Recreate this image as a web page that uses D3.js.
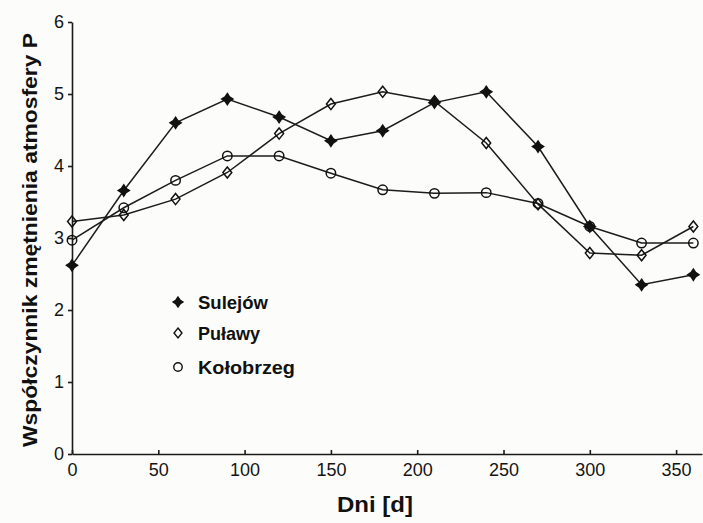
<!DOCTYPE html>
<html>
<head>
<meta charset="utf-8">
<script src="https://cdn.jsdelivr.net/npm/d3@7"></script>
<style>
  body { margin: 0; background: #fcfdfb; }
  svg { display: block; font-family: "Liberation Sans", Arial, sans-serif; }
  .axis path, .axis line { stroke: #1a1a1a; stroke-width: 1.6; }
  .axis text { fill: #141414; font-size: 18px; }
</style>
</head>
<body>
<div id="chart"></div>
<script>
// data
const days = [0, 30, 60, 90, 120, 150, 180, 210, 240, 270, 300, 330, 360]
const sulejow   = [2.62, 3.66, 4.60, 4.93, 4.68, 4.35, 4.49, 4.88, 5.03, 4.27, 3.16, 2.35, 2.49]
const pulawy    = [3.23, 3.32, 3.54, 3.91, 4.45, 4.86, 5.03, 4.90, 4.32, 3.47, 2.79, 2.76, 3.16]
const kolobrzeg = [2.97, 3.42, 3.80, 4.14, 4.14, 3.90, 3.67, 3.62, 3.63, 3.48, 3.16, 2.93, 2.93]
const seriesNames = ["Sulejów", "Puławy", "Kołobrzeg"]
const xTicks = [0, 50, 100, 150, 200, 250, 300, 350]
const yTicks = [0, 1, 2, 3, 4, 5, 6]

const width = 703
const height = 523
const margin = {top: 22, right: 1, bottom: 69, left: 72}

const svg = d3.select("#chart").append("svg")
    .attr("width", width)
    .attr("height", height)

const xScale = d3.scaleLinear()
    .domain([0, 365])
    .range([margin.left, width - margin.right])

const yScale = d3.scaleLinear()
    .domain([0, 6])
    .range([height - margin.bottom, margin.top])

// 4-pointed star marker
const star4 = {
    draw(context, size) {
        const r = Math.sqrt(size) * 0.75
        const i = r * 0.4
        context.moveTo(0, -r)
        context.lineTo(i, -i)
        context.lineTo(r, 0)
        context.lineTo(i, i)
        context.lineTo(0, r)
        context.lineTo(-i, i)
        context.lineTo(-r, 0)
        context.lineTo(-i, -i)
        context.closePath()
    }
}
const diamond = {
    draw(context, size) {
        const h = Math.sqrt(size) * 0.62
        const w = h * 0.8
        context.moveTo(0, -h)
        context.lineTo(w, 0)
        context.lineTo(0, h)
        context.lineTo(-w, 0)
        context.closePath()
    }
}

const series = [
    {name: seriesNames[0], values: sulejow, symbol: star4, size: 55, fill: "#111"},
    {name: seriesNames[1], values: pulawy, symbol: diamond, size: 80, fill: "none"},
    {name: seriesNames[2], values: kolobrzeg, symbol: d3.symbolCircle, size: 70, fill: "none"}
]

// axes
const xAxis = d3.axisBottom(xScale)
    .tickValues(xTicks)
    .tickSize(-4)
    .tickPadding(9)
    .tickSizeOuter(0)

const yAxis = d3.axisLeft(yScale)
    .tickValues(yTicks)
    .tickFormat(d3.format("d"))
    .tickSize(4)
    .tickPadding(4)
    .tickSizeOuter(0)

svg.append("g")
    .attr("class", "axis x-axis")
    .attr("transform", `translate(0, ${height - margin.bottom})`)
    .call(xAxis)

svg.append("g")
    .attr("class", "axis y-axis")
    .attr("transform", `translate(${margin.left}, 0)`)
    .call(yAxis)

svg.selectAll(".axis .domain").attr("stroke-width", 1.8)

// axis labels
svg.append("text")
    .attr("x", 375)
    .attr("y", 512)
    .attr("text-anchor", "middle")
    .attr("fill", "#111")
    .attr("textLength", 76)
    .attr("lengthAdjust", "spacingAndGlyphs")
    .style("font-size", "22px")
    .style("font-weight", "bold")
    .text("Dni [d]")

svg.append("text")
    .attr("transform", "translate(37, 240) rotate(-90)")
    .attr("text-anchor", "middle")
    .attr("fill", "#111")
    .attr("textLength", 414)
    .attr("lengthAdjust", "spacingAndGlyphs")
    .style("font-size", "21px")
    .style("font-weight", "bold")
    .text("Współczynnik zmętnienia atmosfery P")

// lines + markers
const line = d3.line()
    .x((d, i) => xScale(days[i]))
    .y(d => yScale(d))

series.forEach(s => {
    svg.append("path")
        .datum(s.values)
        .attr("fill", "none")
        .attr("stroke", "#1c1c1c")
        .attr("stroke-width", 1.5)
        .attr("d", line)
})

series.forEach(s => {
    svg.append("g").selectAll("path")
        .data(s.values)
        .join("path")
        .attr("transform", (d, i) => `translate(${xScale(days[i])}, ${yScale(d)})`)
        .attr("d", d3.symbol(s.symbol, s.size))
        .attr("fill", s.fill)
        .attr("stroke", "#111")
        .attr("stroke-width", 1.5)
})

// legend
const legendY = [302, 333, 367]
const legendW = [70, 62, 97]
const legend = svg.append("g")
series.forEach((s, i) => {
    legend.append("path")
        .attr("transform", `translate(178, ${legendY[i]})`)
        .attr("d", d3.symbol(s.symbol, s.size * 0.8))
        .attr("fill", s.fill)
        .attr("stroke", "#111")
        .attr("stroke-width", 1.4)
    legend.append("text")
        .attr("x", 198)
        .attr("y", legendY[i] + 7)
        .attr("fill", "#111")
        .attr("textLength", legendW[i])
        .attr("lengthAdjust", "spacingAndGlyphs")
        .style("font-size", "19px")
        .style("font-weight", "bold")
        .text(s.name)
})
</script>
</body>
</html>
